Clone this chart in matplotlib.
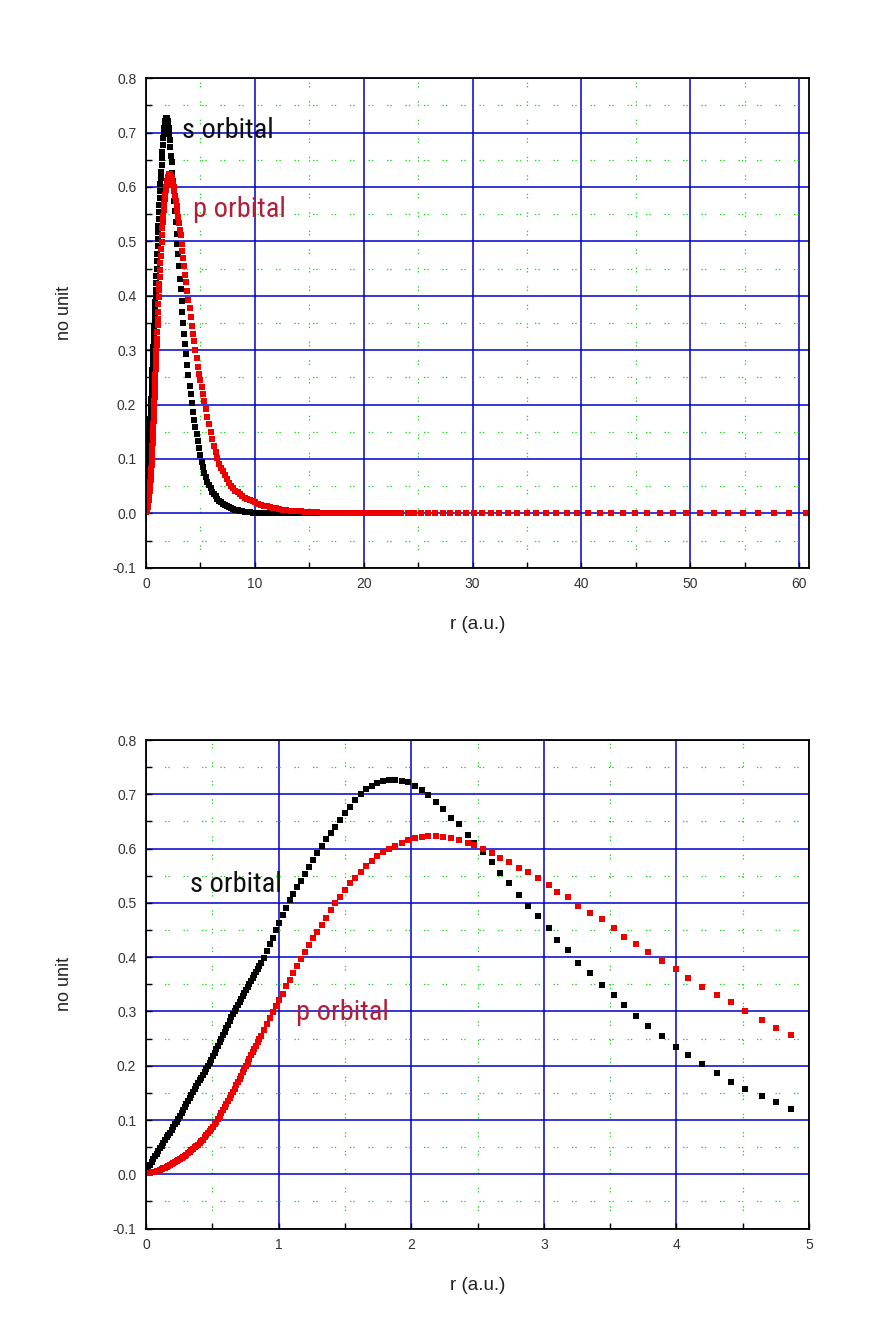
import matplotlib
matplotlib.use("Agg")
import matplotlib.pyplot as plt
from matplotlib import font_manager
from matplotlib.ticker import MultipleLocator, FormatStrFormatter

plt.rcParams['font.family'] = ['Liberation Sans', 'DejaVu Sans']

# radial grid (a.u.)
r = [
    0.005, 0.0175, 0.03, 0.0425, 0.055, 0.0675, 0.08, 0.0925, 0.105, 0.1175,
    0.13, 0.1425, 0.155, 0.1675, 0.18, 0.1925, 0.205, 0.2175, 0.23, 0.2425,
    0.255, 0.2675, 0.28, 0.2925, 0.305, 0.3175, 0.33, 0.3425, 0.355, 0.3675,
    0.38, 0.3925, 0.405, 0.4175, 0.43, 0.4425, 0.455, 0.4675, 0.48, 0.4925,
    0.505, 0.5175, 0.53, 0.5425, 0.555, 0.5675, 0.58, 0.5925, 0.605, 0.6175,
    0.63, 0.6425, 0.655, 0.6675, 0.68, 0.6925, 0.705, 0.7175, 0.73, 0.7425,
    0.755, 0.7675, 0.78, 0.7925, 0.805, 0.8175, 0.83, 0.8425, 0.855,
    0.866, 0.888, 0.911, 0.934, 0.957, 0.982, 1.006, 1.032, 1.058, 1.085,
    1.112, 1.141, 1.169, 1.199, 1.229, 1.261, 1.292, 1.325, 1.359, 1.393,
    1.428, 1.465, 1.502, 1.540, 1.579, 1.619, 1.659, 1.701, 1.744, 1.789,
    1.834, 1.880, 1.928, 1.977, 2.027, 2.078, 2.130, 2.184, 2.240,
    2.300, 2.362, 2.426, 2.476, 2.541, 2.606, 2.672, 2.737, 2.815, 2.880,
    2.958, 3.036, 3.102, 3.180, 3.258, 3.348, 3.439, 3.529, 3.607, 3.698,
    3.788, 3.894, 3.997, 4.088, 4.191, 4.309, 4.412, 4.517, 4.646, 4.749,
    4.866,
    4.982, 5.108, 5.237, 5.370, 5.506, 5.645, 5.788, 5.934, 6.084, 6.238,
    6.396, 6.558, 6.724, 6.894, 7.068, 7.247, 7.430, 7.618, 7.811, 8.009,
    8.211, 8.419, 8.632, 8.850, 9.074, 9.304, 9.539, 9.781, 10.028, 10.282,
    10.542, 10.809, 11.082, 11.363, 11.650, 11.945, 12.247, 12.557, 12.875, 13.200,
    13.534, 13.877, 14.228, 14.588, 14.957, 15.335, 15.723, 16.121, 16.529, 16.947,
    17.376, 17.815, 18.266, 18.728, 19.202, 19.688, 20.186, 20.696, 21.220, 21.757,
    22.307, 22.872, 23.450, 24.044, 24.652, 25.276, 25.915, 26.571, 27.243, 27.932,
    28.639, 29.363, 30.106, 30.868, 31.649, 32.449, 33.270, 34.112, 34.975, 35.860,
    36.767, 37.697, 38.651, 39.628, 40.631, 41.659, 42.713, 43.793, 44.901, 46.037,
    47.202, 48.396, 49.620, 50.876, 52.163, 53.482, 54.835, 56.223, 57.645, 59.103,
    60.598,
]

s_orb = [
    0.008, 0.013, 0.018, 0.023, 0.028, 0.033, 0.038, 0.043, 0.048, 0.053,
    0.058, 0.063, 0.068, 0.072, 0.077, 0.082, 0.087, 0.092, 0.097, 0.102,
    0.108, 0.113, 0.119, 0.124, 0.129, 0.135, 0.140, 0.146, 0.151, 0.157,
    0.162, 0.168, 0.173, 0.178, 0.183, 0.189, 0.194, 0.200, 0.205, 0.211,
    0.218, 0.224, 0.230, 0.237, 0.243, 0.250, 0.256, 0.263, 0.269, 0.276,
    0.282, 0.289, 0.295, 0.301, 0.306, 0.312, 0.317, 0.323, 0.328, 0.334,
    0.339, 0.345, 0.350, 0.356, 0.362, 0.368, 0.373, 0.378, 0.384,
    0.389, 0.399, 0.411, 0.424, 0.436, 0.450, 0.463, 0.477, 0.491, 0.505,
    0.517, 0.529, 0.541, 0.553, 0.566, 0.579, 0.592, 0.605, 0.617, 0.628,
    0.640, 0.653, 0.665, 0.677, 0.690, 0.701, 0.709, 0.716, 0.721, 0.725,
    0.727, 0.727, 0.725, 0.722, 0.716, 0.708, 0.698, 0.686, 0.673,
    0.657, 0.645, 0.625, 0.610, 0.594, 0.575, 0.555, 0.536, 0.514, 0.495,
    0.476, 0.454, 0.431, 0.413, 0.390, 0.371, 0.349, 0.330, 0.311, 0.292,
    0.273, 0.254, 0.234, 0.219, 0.203, 0.187, 0.171, 0.158, 0.145, 0.133,
    0.120,
    0.108, 0.095, 0.085, 0.075, 0.066, 0.058, 0.052, 0.046, 0.040, 0.035,
    0.031, 0.026, 0.023, 0.020, 0.017, 0.015, 0.013, 0.011, 0.0095, 0.008,
    0.007, 0.0055, 0.0045, 0.0035, 0.003, 0.0025, 0.002, 0.0015, 0.001, 0.001,
    0.0008, 0.0006, 0.0005, 0.0004, 0.0003, 0.0002, 0.0002, 0.0001, 0.0001, 0.0001,
    0.0, 0.0, 0.0, 0.0, 0.0, 0.0, 0.0, 0.0, 0.0, 0.0,
    0.0, 0.0, 0.0, 0.0, 0.0, 0.0, 0.0, 0.0, 0.0, 0.0,
    0.0, 0.0, 0.0, 0.0, 0.0, 0.0, 0.0, 0.0, 0.0, 0.0,
    0.0, 0.0, 0.0, 0.0, 0.0, 0.0, 0.0, 0.0, 0.0, 0.0,
    0.0, 0.0, 0.0, 0.0, 0.0, 0.0, 0.0, 0.0, 0.0, 0.0,
    0.0, 0.0, 0.0, 0.0, 0.0, 0.0, 0.0, 0.0, 0.0, 0.0,
    0.0,
]

p_orb = [
    0.002, 0.0025, 0.003, 0.0035, 0.004, 0.005, 0.006, 0.007, 0.008, 0.0095,
    0.011, 0.0125, 0.014, 0.0155, 0.017, 0.0185, 0.020, 0.022, 0.024, 0.026,
    0.028, 0.030, 0.032, 0.034, 0.036, 0.039, 0.042, 0.0445, 0.047, 0.0495,
    0.052, 0.0545, 0.057, 0.0605, 0.064, 0.068, 0.072, 0.076, 0.080, 0.084,
    0.088, 0.0925, 0.097, 0.102, 0.107, 0.1125, 0.118, 0.124, 0.130, 0.1355,
    0.141, 0.1465, 0.152, 0.158, 0.164, 0.170, 0.176, 0.182, 0.188, 0.194,
    0.200, 0.2065, 0.213, 0.219, 0.225, 0.231, 0.237, 0.243, 0.249,
    0.255, 0.266, 0.277, 0.288, 0.299, 0.310, 0.321, 0.333, 0.346, 0.358,
    0.371, 0.384, 0.397, 0.410, 0.422, 0.435, 0.447, 0.460, 0.473, 0.486,
    0.499, 0.511, 0.524, 0.536, 0.546, 0.557, 0.568, 0.577, 0.586, 0.594,
    0.600, 0.605, 0.611, 0.615, 0.619, 0.621, 0.623, 0.623, 0.621,
    0.619, 0.616, 0.610, 0.606, 0.600, 0.592, 0.583, 0.575, 0.565, 0.556,
    0.545, 0.533, 0.520, 0.511, 0.495, 0.482, 0.470, 0.454, 0.438, 0.425,
    0.409, 0.393, 0.378, 0.361, 0.345, 0.330, 0.317, 0.301, 0.285, 0.269,
    0.257,
    0.245, 0.232, 0.219, 0.206, 0.192, 0.178, 0.164, 0.150, 0.136, 0.123,
    0.112, 0.101, 0.091, 0.084, 0.077, 0.070, 0.063, 0.056, 0.051, 0.047,
    0.042, 0.039, 0.035, 0.032, 0.029, 0.026, 0.024, 0.022, 0.020, 0.018,
    0.016, 0.014, 0.013, 0.011, 0.010, 0.009, 0.008, 0.007, 0.006, 0.005,
    0.0045, 0.004, 0.0035, 0.003, 0.0025, 0.002, 0.002, 0.0015, 0.0015, 0.001,
    0.001, 0.001, 0.001, 0.001, 0.001, 0.001, 0.001, 0.001, 0.001, 0.001,
    0.001, 0.001, 0.001, 0.001, 0.001, 0.001, 0.001, 0.001, 0.001, 0.001,
    0.001, 0.001, 0.001, 0.001, 0.001, 0.001, 0.001, 0.001, 0.001, 0.001,
    0.001, 0.001, 0.001, 0.001, 0.001, 0.001, 0.001, 0.001, 0.001, 0.001,
    0.001, 0.001, 0.001, 0.001, 0.001, 0.001, 0.001, 0.001, 0.001, 0.001,
    0.001,
]

BLUE = "#0000cc"
GREEN = "#11dd11"
LABEL_RED = "#b0203a"

# narrow face for the in-plot labels, if one is installed
installed = {f.name for f in font_manager.fontManager.ttflist}
narrow = [n for n in ['Liberation Sans Narrow', 'DejaVu Sans Condensed',
                      'Roboto Condensed', 'Open Sans Condensed'] if n in installed]
if narrow:
    LABEL_FONT = [narrow[0], 'Liberation Sans', 'DejaVu Sans']
    LABEL_SIZE = 20.5
else:
    LABEL_FONT = ['Liberation Sans', 'DejaVu Sans']
    LABEL_SIZE = 18.5


def draw_panel(ax, xmax, rmax, xmajor, xminor, s_pos, p_pos, ylab_y):
    n = len([v for v in r if v <= rmax])
    ax.plot(r[:n], s_orb[:n], linestyle="none", marker="s", markersize=3.8,
            markeredgewidth=0, color="black")
    ax.plot(r[:n], p_orb[:n], linestyle="none", marker="s", markersize=3.8,
            markeredgewidth=0, color="#ee0000")

    ax.set_xlim(0, xmax)
    ax.set_ylim(-0.1, 0.8)
    ax.xaxis.set_major_locator(MultipleLocator(xmajor))
    ax.xaxis.set_minor_locator(MultipleLocator(xminor))
    ax.yaxis.set_major_locator(MultipleLocator(0.1))
    ax.yaxis.set_minor_locator(MultipleLocator(0.05))
    ax.yaxis.set_major_formatter(FormatStrFormatter("%.1f"))

    ax.set_axisbelow(True)
    ax.grid(which="major", color=BLUE, linewidth=1.1)
    ax.grid(which="minor", color=GREEN, linewidth=0.9,
            linestyle=(0, (1.1, 1.6, 1.1, 11)))

    ax.tick_params(which="both", direction="in", length=4, width=1,
                   top=False, right=False, labelsize=10, labelcolor="#333333", pad=7)
    for sp in ax.spines.values():
        sp.set_linewidth(1.3)
        sp.set_color("black")

    ax.set_xlabel("r (a.u.)", fontsize=13.5, color="#222222")
    ax.set_ylabel("no unit", fontsize=13, color="#222222")
    ax.xaxis.set_label_coords(0.5, -0.098)
    ax.yaxis.set_label_coords(-0.110, ylab_y)

    ax.text(s_pos[0], s_pos[1], "s orbital", fontsize=LABEL_SIZE, family=LABEL_FONT,
            color="#111111", va="baseline", ha="left")
    ax.text(p_pos[0], p_pos[1], "p orbital", fontsize=LABEL_SIZE, family=LABEL_FONT,
            color=LABEL_RED, va="baseline", ha="left")


fig = plt.figure(figsize=(8.75, 13.17), dpi=100)
ax_top = fig.add_axes([0.1669, 0.5689, 0.7577, 0.3718])
ax_bot = fig.add_axes([0.1669, 0.0671, 0.7577, 0.3710])

draw_panel(ax_top, 60.9, 61.0, 10, 5, (3.27, 0.689), (4.33, 0.545), 0.52)
draw_panel(ax_bot, 5, 4.9, 1, 0.5, (0.332, 0.520), (1.131, 0.284), 0.5)

fig.savefig("out.png", dpi=100)
